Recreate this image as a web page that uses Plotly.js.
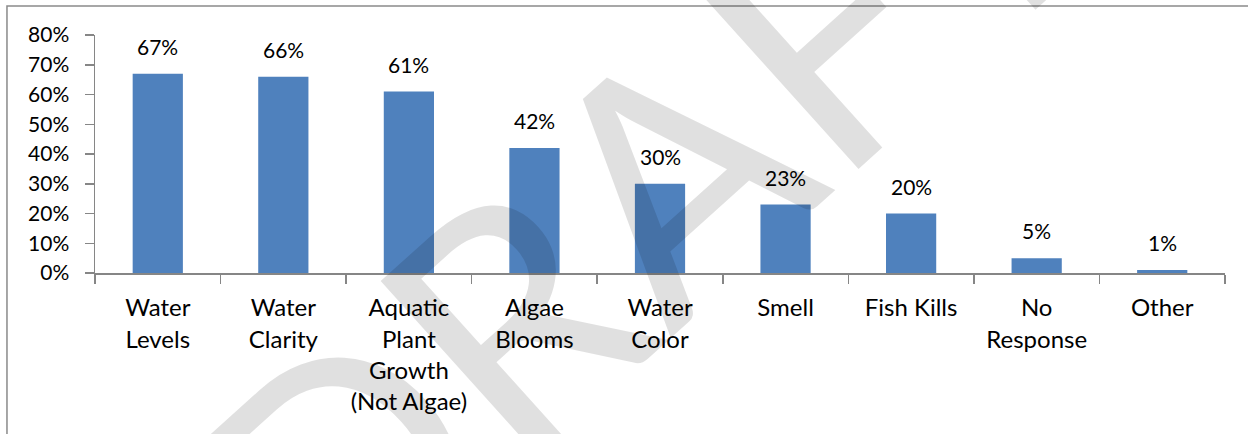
<!DOCTYPE html>
<html>
<head>
<meta charset="utf-8">
<script src="https://cdn.plot.ly/plotly-3.0.1.min.js"></script>
<style>
  html, body { margin: 0; padding: 0; background: #fff; }
  #chart { width: 1248px; height: 434px; }
</style>
</head>
<body>
<div id="chart"></div>
<script>
// ---- data ----
const categories = [
  "Water<br>Levels",
  "Water<br>Clarity",
  "Aquatic<br>Plant<br>Growth<br>(Not Algae)",
  "Algae<br>Blooms",
  "Water<br>Color",
  "Smell",
  "Fish Kills",
  "No<br>Response",
  "Other"
];
const percentValues = [67, 66, 61, 42, 30, 23, 20, 5, 1];
const yTickValues = [0, 10, 20, 30, 40, 50, 60, 70, 80];
const yTickLabels = ["0%", "10%", "20%", "30%", "40%", "50%", "60%", "70%", "80%"];
const watermarkText = "DRAFT";

const FONT = "Lato, 'Open Sans', sans-serif";
const AXIS_GRAY = "#868686";

const barTrace = {
  type: "bar",
  x: categories,
  y: percentValues,
  marker: { color: "#4F81BD" },
  hoverinfo: "skip",
  showlegend: false
};

const labelAnnotations = categories.map((c, i) => ({
  x: c,
  y: percentValues[i],
  xref: "x",
  yref: "y",
  text: percentValues[i] + "%",
  showarrow: false,
  yanchor: "bottom",
  yshift: 13,
  font: { family: FONT, size: 21, color: "#000" }
}));

const watermark = {
  xref: "paper", yref: "paper",
  x: 0.482, y: 0.33,
  xanchor: "center", yanchor: "middle",
  text: watermarkText,
  showarrow: false,
  textangle: -42,
  font: { family: FONT, size: 330, color: "rgba(0,0,0,0.12)" }
};

const layout = {
  width: 1248,
  height: 434,
  margin: { l: 95, r: 23, t: 35, b: 161, pad: 0 },
  paper_bgcolor: "#fff",
  plot_bgcolor: "#fff",
  bargap: 0.6,
  font: { family: FONT, color: "#000" },
  xaxis: {
    type: "category",
    showline: true,
    linecolor: AXIS_GRAY,
    linewidth: 1.5,
    ticks: "outside",
    tickson: "boundaries",
    ticklen: 9,
    tickcolor: AXIS_GRAY,
    tickwidth: 1.5,
    showgrid: false,
    zeroline: false,
    tickangle: 0,
    ticklabelstandoff: 13,
    tickfont: { family: FONT, size: 24, color: "#000" },
    fixedrange: true
  },
  yaxis: {
    range: [0, 80],
    tickmode: "array",
    tickvals: yTickValues,
    ticktext: yTickLabels,
    showline: true,
    linecolor: AXIS_GRAY,
    linewidth: 1.5,
    ticks: "outside",
    ticklen: 9,
    tickcolor: AXIS_GRAY,
    tickwidth: 1.5,
    showgrid: false,
    zeroline: false,
    ticklabelstandoff: 11,
    tickfont: { family: FONT, size: 21, color: "#000" },
    fixedrange: true
  },
  shapes: [{
    type: "rect",
    xref: "paper", yref: "paper",
    x0: -0.0779, x1: 1.2,
    y0: -1.0, y1: 1.1218,
    line: { color: "#8a8a8a", width: 1.5 },
    fillcolor: "rgba(0,0,0,0)",
    layer: "below"
  }],
  annotations: labelAnnotations.concat([watermark])
};

Plotly.newPlot("chart", [barTrace], layout, { displayModeBar: false, staticPlot: true });
</script>
</body>
</html>
